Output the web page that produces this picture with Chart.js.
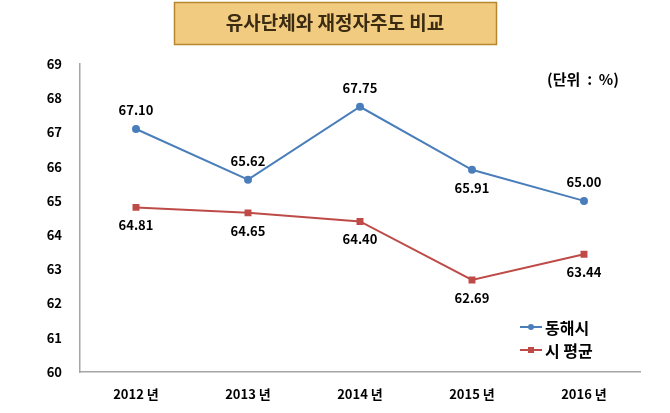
<!DOCTYPE html>
<html>
<head>
<meta charset="utf-8">
<script src="https://cdn.jsdelivr.net/npm/chart.js@4/dist/chart.umd.min.js"></script>
<style>
  html, body { margin: 0; padding: 0; background: #fff; }
  #wrap { width: 670px; height: 413px; position: relative; }
</style>
</head>
<body>
<div id="wrap"><canvas id="grafico" width="670" height="413"></canvas></div>
<script>
const anios = ['2012 년', '2013 년', '2014 년', '2015 년', '2016 년'];
const donghae = [67.10, 65.62, 67.75, 65.91, 65.00];
const promedioCiudad = [64.81, 64.65, 64.40, 62.69, 63.44];
const posDonghae = ['top', 'top', 'top', 'bottom', 'top'];
const posPromedio = ['bottom', 'bottom', 'bottom', 'bottom', 'bottom'];
const ticksY = [60, 61, 62, 63, 64, 65, 66, 67, 68, 69];

const fuente = '"Noto Sans CJK KR", "Noto Sans", sans-serif';
const azul = '#4A7EBB';
const rojo = '#BE4B48';

// titulo, unidad, etiquetas y leyenda
const extras = {
    id: 'extras',
    afterDatasetsDraw(chart) {
        const ctx = chart.ctx;
        ctx.save();
        // caja del titulo
        ctx.fillStyle = '#F0CB80';
        ctx.fillRect(174, 2, 323, 43);
        ctx.strokeStyle = '#B8862E';
        ctx.lineWidth = 1.5;
        ctx.strokeRect(174.5, 2.5, 322, 42);
        ctx.fillStyle = '#3B2B12';
        ctx.font = 'bold 19px ' + fuente;
        ctx.textAlign = 'center';
        ctx.textBaseline = 'middle';
        ctx.fillText('유사단체와 재정자주도 비교', 335, 23);

        // unidad
        ctx.fillStyle = '#000';
        ctx.font = 'bold 15px ' + fuente;
        ctx.fillText('(단위  :  %)', 583, 79);

        // etiquetas de datos
        ctx.font = 'bold 13px ' + fuente;
        const posiciones = [posDonghae, posPromedio];
        chart.data.datasets.forEach((ds, i) => {
            chart.getDatasetMeta(i).data.forEach((pt, j) => {
                const dy = posiciones[i][j] === 'top' ? -19 : 18;
                ctx.fillText(ds.data[j].toFixed(2), pt.x, pt.y + dy);
            });
        });

        // leyenda
        const items = [[donghae, azul, 'circle', '동해시'], [promedioCiudad, rojo, 'rect', '시 평균']];
        items.forEach((it, k) => {
            const y = 327 + k * 23;
            ctx.strokeStyle = it[1];
            ctx.lineWidth = 2;
            ctx.beginPath();
            ctx.moveTo(520, y);
            ctx.lineTo(542, y);
            ctx.stroke();
            ctx.fillStyle = it[1];
            if (it[2] === 'circle') {
                ctx.beginPath();
                ctx.arc(531, y, 3, 0, Math.PI * 2);
                ctx.fill();
            } else {
                ctx.fillRect(528, y - 3, 6, 6);
            }
            ctx.fillStyle = '#000';
            ctx.font = 'bold 16px ' + fuente;
            ctx.textAlign = 'left';
            ctx.fillText(it[3], 545, y + 1);
        });
        ctx.restore();
    }
};

const ctx = document.getElementById('grafico').getContext('2d');
new Chart(ctx, {
    type: 'line',
    data: {
        labels: anios,
        datasets: [{
            label: '동해시',
            data: donghae,
            borderColor: azul,
            backgroundColor: azul,
            borderWidth: 2,
            pointStyle: 'circle',
            pointRadius: 3,
            tension: 0
        }, {
            label: '시 평균',
            data: promedioCiudad,
            borderColor: rojo,
            backgroundColor: rojo,
            borderWidth: 2,
            pointStyle: 'rect',
            pointRadius: 3.5,
            tension: 0
        }]
    },
    options: {
        responsive: false,
        animation: false,
        layout: { padding: { top: 64, right: 30, left: 0, bottom: 0 } },
        plugins: {
            legend: { display: false },
            tooltip: { enabled: false }
        },
        scales: {
            x: {
                offset: true,
                grid: { display: false, drawTicks: false },
                border: { color: '#A6A6A6', width: 1.5 },
                ticks: {
                    color: '#000',
                    font: { family: fuente, size: 13, weight: 'bold' },
                    padding: 14
                },
                afterFit: scale => { scale.height = 41; }
            },
            y: {
                min: 60,
                max: 69,
                afterBuildTicks: scale => { scale.ticks = ticksY.map(v => ({ value: v })); },
                grid: { display: false, drawTicks: false },
                border: { color: '#A6A6A6', width: 1.5 },
                ticks: {
                    color: '#000',
                    font: { family: fuente, size: 13, weight: 'bold' },
                    padding: 18
                },
                afterFit: scale => { scale.width = 80; }
            }
        }
    },
    plugins: [extras]
});
</script>
</body>
</html>
